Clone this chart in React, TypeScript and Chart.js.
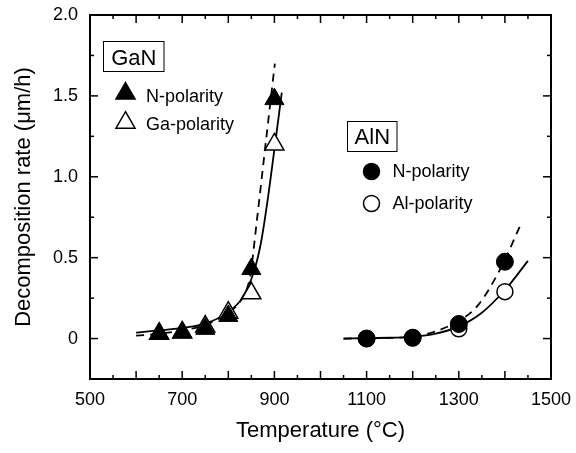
import React, { useEffect, useRef } from 'react';
import { Chart, registerables } from 'chart.js';

Chart.register(...registerables);

// ---- Data ----
const xTickLabels = [500, 700, 900, 1100, 1300, 1500];
const yTickLabels = [0, 0.5, 1.0, 1.5, 2.0];

const ganTemps = [650, 700, 750, 800, 850, 900];
const ganNPolarity = [0.03, 0.038, 0.06, 0.14, 0.43, 1.48];
const ganGaPolarity = [0.03, 0.038, 0.074, 0.16, 0.28, 1.2];

const alnTemps = [1100, 1200, 1300, 1400];
const alnNPolarity = [0, 0.005, 0.09, 0.475];
const alnAlPolarity = [0, 0.005, 0.06, 0.29];

// fitted curves
const ganSolidX = [600, 650, 700, 750, 800, 830, 854, 870, 884, 900, 916];
const ganSolidY = [0.037, 0.05, 0.066, 0.092, 0.165, 0.25, 0.4, 0.58, 0.83, 1.17, 1.52];
const ganDashX = [600, 650, 700, 750, 800, 830, 847, 862, 880, 901];
const ganDashY = [0.018, 0.03, 0.05, 0.085, 0.16, 0.25, 0.38, 0.73, 1.18, 1.7];

const alnSolidX = [1050, 1100, 1150, 1200, 1250, 1300, 1350, 1400, 1450];
const alnSolidY = [0, 0.002, 0.005, 0.01, 0.03, 0.075, 0.16, 0.3, 0.48];
const alnDashX = [1050, 1100, 1150, 1200, 1250, 1300, 1340, 1390, 1432];
const alnDashY = [0, 0.001, 0.004, 0.012, 0.045, 0.11, 0.2, 0.43, 0.69];

const FONT = '"Liberation Sans", Arial, Helvetica, sans-serif';

const pts = (xs: number[], ys: number[]) => xs.map((x, i) => ({ x, y: ys[i] }));

function drawTri(ctx: CanvasRenderingContext2D, cx: number, cy: number, r: number, filled: boolean) {
  ctx.beginPath();
  ctx.moveTo(cx, cy - r);
  ctx.lineTo(cx + 0.866 * r, cy + 0.5 * r);
  ctx.lineTo(cx - 0.866 * r, cy + 0.5 * r);
  ctx.closePath();
  ctx.fillStyle = filled ? '#000' : '#fff';
  ctx.fill();
  ctx.lineWidth = 1.5;
  ctx.strokeStyle = '#000';
  ctx.stroke();
}

function drawCircle(ctx: CanvasRenderingContext2D, cx: number, cy: number, r: number, filled: boolean) {
  ctx.beginPath();
  ctx.arc(cx, cy, r, 0, Math.PI * 2);
  ctx.fillStyle = filled ? '#000' : '#fff';
  ctx.fill();
  ctx.lineWidth = 1.5;
  ctx.strokeStyle = '#000';
  ctx.stroke();
}

const framePlugin = {
  id: 'frameTicks',
  afterDraw(chart: any) {
    const { ctx, chartArea, scales } = chart;
    const { left, right, top, bottom } = chartArea;
    const x = scales.x;
    const y = scales.y;
    ctx.save();
    ctx.strokeStyle = '#000';
    ctx.lineWidth = 2;
    ctx.strokeRect(left, top, right - left, bottom - top);
    ctx.lineWidth = 1.5;
    const seg = (x1: number, y1: number, x2: number, y2: number) => {
      ctx.beginPath();
      ctx.moveTo(x1, y1);
      ctx.lineTo(x2, y2);
      ctx.stroke();
    };
    for (let v = x.min; v <= x.max + 1e-6; v += 50) {
      const px = x.getPixelForValue(v);
      const len = Math.round(v) % 100 === 0 ? 8 : 4;
      seg(px, bottom, px, bottom - len);
      seg(px, top, px, top + len);
    }
    for (let v = y.min; v <= y.max + 1e-6; v += 0.25) {
      const py = y.getPixelForValue(v);
      const major = Math.abs(v * 2 - Math.round(v * 2)) < 1e-6;
      const len = major ? 8 : 4;
      seg(left, py, left + len, py);
      seg(right, py, right - len, py);
    }

    // annotations / legends
    ctx.lineWidth = 1;
    ctx.strokeStyle = '#000';
    ctx.strokeRect(103.5, 41.5, 60.5, 30);
    ctx.strokeRect(347.5, 121.5, 49.5, 30);
    ctx.fillStyle = '#000';
    ctx.textBaseline = 'alphabetic';
    ctx.font = `22px ${FONT}`;
    ctx.textAlign = 'center';
    ctx.fillText('GaN', 133.8, 65);
    ctx.fillText('AlN', 372.3, 144);

    drawTri(ctx, 125.5, 93.5, 11, true);
    drawTri(ctx, 125.5, 122.7, 11, false);
    drawCircle(ctx, 371.5, 171.5, 8, true);
    drawCircle(ctx, 371.5, 203.5, 8, false);

    ctx.fillStyle = '#000';
    ctx.font = `18px ${FONT}`;
    ctx.textAlign = 'left';
    ctx.fillText('N-polarity', 146, 101.5);
    ctx.fillText('Ga-polarity', 146, 130);
    ctx.fillText('N-polarity', 392.5, 177);
    ctx.fillText('Al-polarity', 392.5, 209);
    ctx.restore();
  },
};

export default function App() {
  const ref = useRef<HTMLCanvasElement | null>(null);

  useEffect(() => {
    if (!ref.current) return;
    const lineBase = {
      showLine: true,
      pointRadius: 0,
      pointHoverRadius: 0,
      borderColor: '#000',
      borderWidth: 1.8,
      fill: false,
      cubicInterpolationMode: 'monotone' as const,
      order: 3,
    };
    const chart = new Chart(ref.current, {
      type: 'scatter',
      data: {
        datasets: [
          {
            label: 'GaN N-polarity',
            data: pts(ganTemps, ganNPolarity),
            pointStyle: 'triangle',
            pointRadius: 11,
            backgroundColor: '#000',
            borderColor: '#000',
            borderWidth: 1,
            order: 1,
          },
          {
            label: 'AlN N-polarity',
            data: pts(alnTemps, alnNPolarity),
            pointStyle: 'circle',
            pointRadius: 8.5,
            backgroundColor: '#000',
            borderColor: '#000',
            borderWidth: 1,
            order: 1,
          },
          {
            label: 'GaN Ga-polarity',
            data: pts(ganTemps, ganGaPolarity),
            pointStyle: 'triangle',
            pointRadius: 11,
            backgroundColor: '#fff',
            borderColor: '#000',
            borderWidth: 1.5,
            order: 2,
          },
          {
            label: 'AlN Al-polarity',
            data: pts(alnTemps, alnAlPolarity),
            pointStyle: 'circle',
            pointRadius: 8,
            backgroundColor: '#fff',
            borderColor: '#000',
            borderWidth: 1.5,
            order: 2,
          },
          { label: 'GaN fit solid', data: pts(ganSolidX, ganSolidY), ...lineBase },
          { label: 'GaN fit dashed', data: pts(ganDashX, ganDashY), ...lineBase, borderDash: [8, 6] },
          { label: 'AlN fit solid', data: pts(alnSolidX, alnSolidY), ...lineBase },
          { label: 'AlN fit dashed', data: pts(alnDashX, alnDashY), ...lineBase, borderDash: [8, 6] },
        ],
      },
      options: {
        responsive: false,
        animation: false,
        devicePixelRatio: 1,
        layout: { padding: { top: 15, right: 25, bottom: 0, left: 0 } },
        plugins: {
          legend: { display: false },
          tooltip: { enabled: false },
        },
        scales: {
          x: {
            type: 'linear',
            min: 500,
            max: 1500,
            grid: { display: false, drawTicks: false },
            border: { display: false },
            afterBuildTicks: (scale: any) => {
              scale.ticks = xTickLabels.map((v) => ({ value: v }));
            },
            afterFit: (scale: any) => {
              scale.height = 74;
              scale.paddingLeft = 0;
              scale.paddingRight = 0;
            },
            ticks: {
              autoSkip: false,
              maxRotation: 0,
              padding: 10,
              color: '#000',
              font: { family: FONT, size: 18 },
              callback: (v: any) => String(v),
            },
            title: {
              display: true,
              text: 'Temperature (°C)',
              color: '#000',
              font: { family: FONT, size: 22 },
              padding: { top: 0, bottom: 9 },
            },
          },
          y: {
            type: 'linear',
            min: -0.25,
            max: 2.0,
            grid: { display: false, drawTicks: false },
            border: { display: false },
            afterBuildTicks: (scale: any) => {
              scale.ticks = yTickLabels.map((v) => ({ value: v }));
            },
            afterFit: (scale: any) => {
              scale.width = 90;
              scale.paddingTop = 0;
              scale.paddingBottom = 0;
            },
            ticks: {
              autoSkip: false,
              padding: 12,
              color: '#000',
              font: { family: FONT, size: 18 },
              callback: (v: any) => (Number(v) === 0 ? '0' : Number(v).toFixed(1)),
            },
            title: {
              display: true,
              text: 'Decomposition rate (μm/h)',
              color: '#000',
              font: { family: FONT, size: 22 },
              padding: { top: 11, bottom: 0 },
            },
          },
        },
      },
      plugins: [framePlugin],
    } as any);
    return () => chart.destroy();
  }, []);

  return (
    <div style={{ position: 'fixed', left: 0, top: 0, width: 576, height: 453, background: '#fff' }}>
      <canvas ref={ref} width={576} height={453} style={{ display: 'block' }} />
    </div>
  );
}
